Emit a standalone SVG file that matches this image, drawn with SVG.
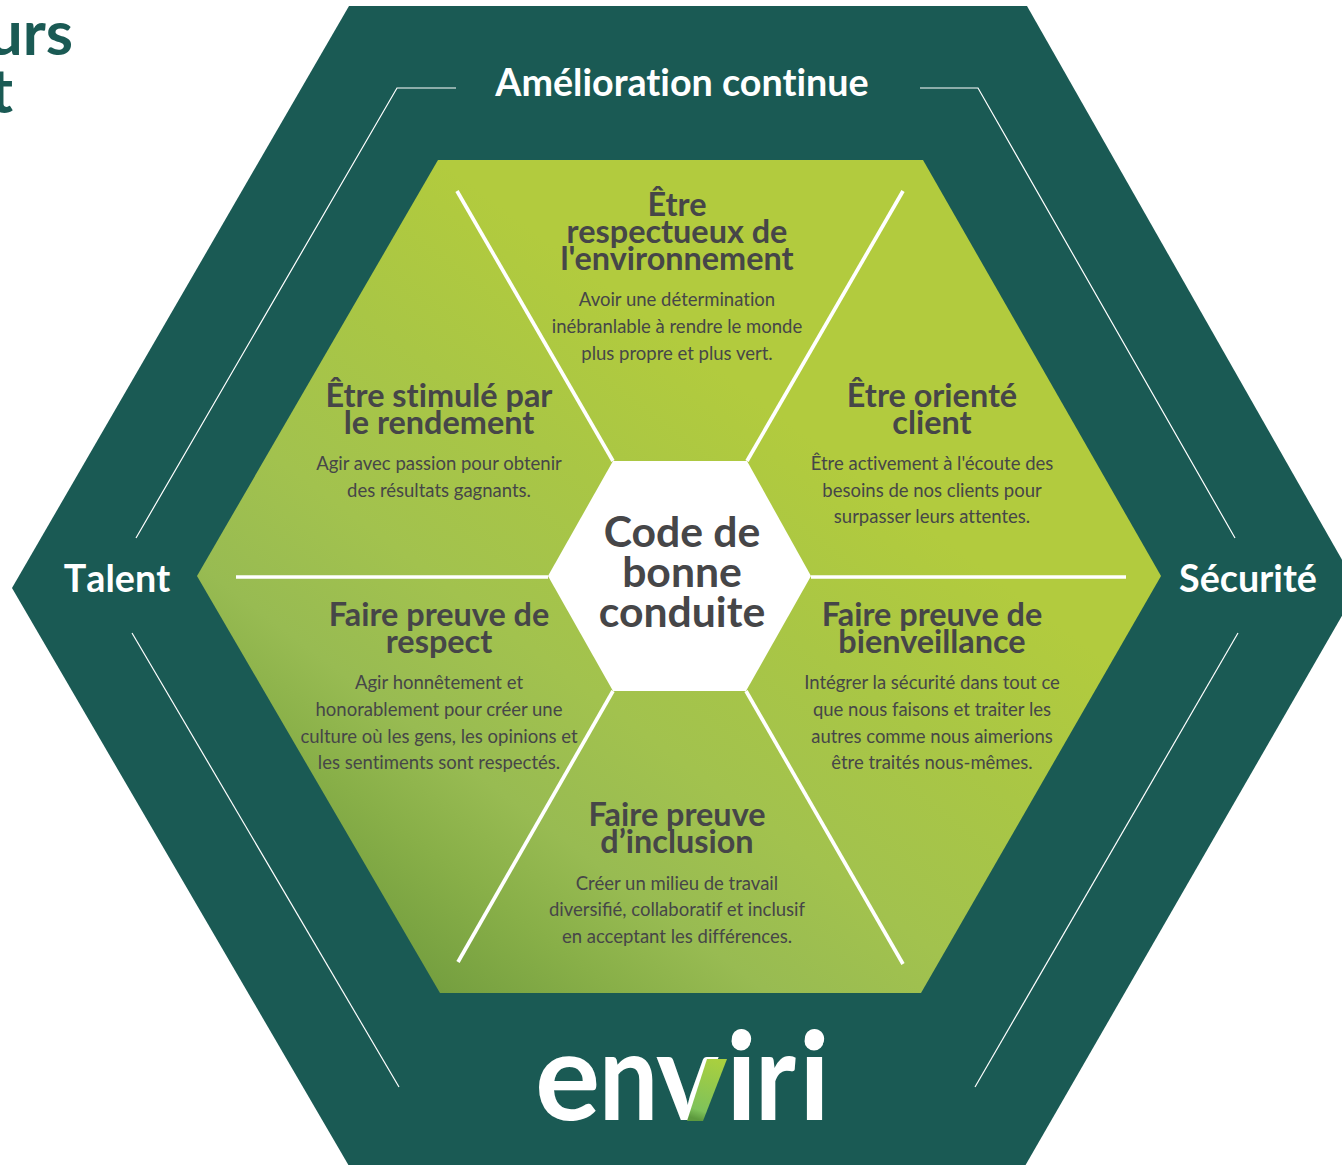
<svg xmlns="http://www.w3.org/2000/svg" width="1342" height="1165" viewBox="0 0 1342 1165">
<style>
text{font-family:Lato,"Open Sans","Liberation Sans",sans-serif;text-anchor:middle;font-variant-ligatures:none}
.h{font-size:32.4px;font-weight:700;fill:#464648}
.b{font-size:18.5px;fill:#464648}
.c{font-size:42.7px;font-weight:700;fill:#464648}
.l{font-size:37.7px;font-weight:700;fill:#fff}
.t{font-size:62px;font-weight:700;fill:#1a5a54;text-anchor:end}
.thin{fill:none;stroke:#fff;stroke-width:1.2}
.div{fill:none;stroke:#fff;stroke-width:3.7}
.logo{font-size:122px;font-weight:700;fill:#fff;text-anchor:start}
</style>
<defs>
<linearGradient id="g" gradientUnits="userSpaceOnUse" x1="340" y1="960" x2="760" y2="400">
<stop offset="0" stop-color="#6a973d"/><stop offset="0.06" stop-color="#76a040"/><stop offset="0.2" stop-color="#88af48"/><stop offset="0.33" stop-color="#98bb52"/><stop offset="0.52" stop-color="#a2c24e"/><stop offset="0.76" stop-color="#a9c645"/><stop offset="0.95" stop-color="#b0ca3f"/><stop offset="1" stop-color="#b2cb3e"/></linearGradient>
<linearGradient id="vg" x1="0.6" y1="0" x2="0.4" y2="1"><stop offset="0" stop-color="#a9cf3f"/><stop offset="0.85" stop-color="#7fc25a"/><stop offset="1" stop-color="#5d9a3e"/></linearGradient>
</defs>
<g id="title"><text class="t" x="73" y="55">urs</text><text class="t" x="13" y="113">t</text></g>
<g id="outer-hexagon"><polygon points="349,6 1027,6 1358,588 1025,1166 349,1166 12,588" fill="#1a5a54"/></g>
<g id="inner-hexagon"><polygon points="438,160 923,160 1161,576 921,993 440,993 197,576" fill="url(#g)"/></g>
<g id="connectors">
<path class="thin" d="M136 538L397 88H456"/><path class="thin" d="M920 88H978L1235 538"/><path class="thin" d="M132 633L399 1087"/><path class="thin" d="M1238 633L975 1087"/>
<path class="div" d="M457 191L613 461"/><path class="div" d="M903 191L747 461"/><path class="div" d="M236 577H548"/><path class="div" d="M811 577H1126"/><path class="div" d="M613 691L458 962"/><path class="div" d="M746 691L903 964"/>
</g>
<g id="center"><polygon points="613,461 747,461 811,576 746,691 613,691 548,576" fill="#fff"/>
<text class="c" x="682" y="547">Code de</text><text class="c" x="682" y="587">bonne</text><text class="c" x="682" y="627">conduite</text></g>
<g id="label-amelioration"><text class="l" x="682" y="96">Amélioration continue</text></g>
<g id="label-talent"><text class="l" x="117" y="592" style="font-kerning:none">Talent</text></g>
<g id="label-securite"><text class="l" x="1248" y="592">Sécurité</text></g>
<g id="environnement"><text class="h" x="677" y="216">Être</text><text class="h" x="677" y="243">respectueux de</text><text class="h" x="677" y="270">l'environnement</text>
<text class="b" x="677" y="306">Avoir une détermination</text><text class="b" x="677" y="333">inébranlable à rendre le monde</text><text class="b" x="677" y="360">plus propre et plus vert.</text></g>
<g id="rendement"><text class="h" x="439" y="407">Être stimulé par</text><text class="h" x="439" y="434">le rendement</text>
<text class="b" x="439" y="470">Agir avec passion pour obtenir</text><text class="b" x="439" y="497">des résultats gagnants.</text></g>
<g id="client"><text class="h" x="932" y="407">Être orienté</text><text class="h" x="932" y="434">client</text>
<text class="b" x="932" y="470">Être activement à l'écoute des</text><text class="b" x="932" y="497">besoins de nos clients pour</text><text class="b" x="932" y="523">surpasser leurs attentes.</text></g>
<g id="respect"><text class="h" x="439" y="626">Faire preuve de</text><text class="h" x="439" y="653">respect</text>
<text class="b" x="439" y="689">Agir honnêtement et</text><text class="b" x="439" y="716">honorablement pour créer une</text><text class="b" x="439" y="743">culture où les gens, les opinions et</text><text class="b" x="439" y="769">les sentiments sont respectés.</text></g>
<g id="bienveillance"><text class="h" x="932" y="626">Faire preuve de</text><text class="h" x="932" y="653">bienveillance</text>
<text class="b" x="932" y="689">Intégrer la sécurité dans tout ce</text><text class="b" x="932" y="716">que nous faisons et traiter les</text><text class="b" x="932" y="743">autres comme nous aimerions</text><text class="b" x="932" y="769">être traités nous-mêmes.</text></g>
<g id="inclusion"><text class="h" x="677" y="826">Faire preuve</text><text class="h" x="677" y="853">d’inclusion</text>
<text class="b" x="677" y="890">Créer un milieu de travail</text><text class="b" x="677" y="916">diversi<tspan style="font-variant-ligatures:normal">fi</tspan>é, collaboratif et inclusif</text><text class="b" x="677" y="943">en acceptant les différences.</text></g>
<g id="logo"><text class="logo" x="535" y="1120">e</text><text class="logo" transform="translate(599 1120) scale(0.86 1)" x="0" y="0">n</text><text class="logo" x="656" y="1120" transform="translate(656 0) scale(0.98 1) translate(-656 0)">v</text><text class="logo" x="726" y="1120">i</text><text class="logo" x="755" y="1120" transform="translate(755 0) scale(0.9 1) translate(-755 0)">r</text><text class="logo" x="799" y="1120">i</text><polygon points="707,1059 727,1059 703,1121 687,1121" fill="url(#vg)"/><circle cx="741" cy="1041" r="9.5" fill="#fff"/><circle cx="814" cy="1041" r="9.5" fill="#fff"/></g>
</svg>
